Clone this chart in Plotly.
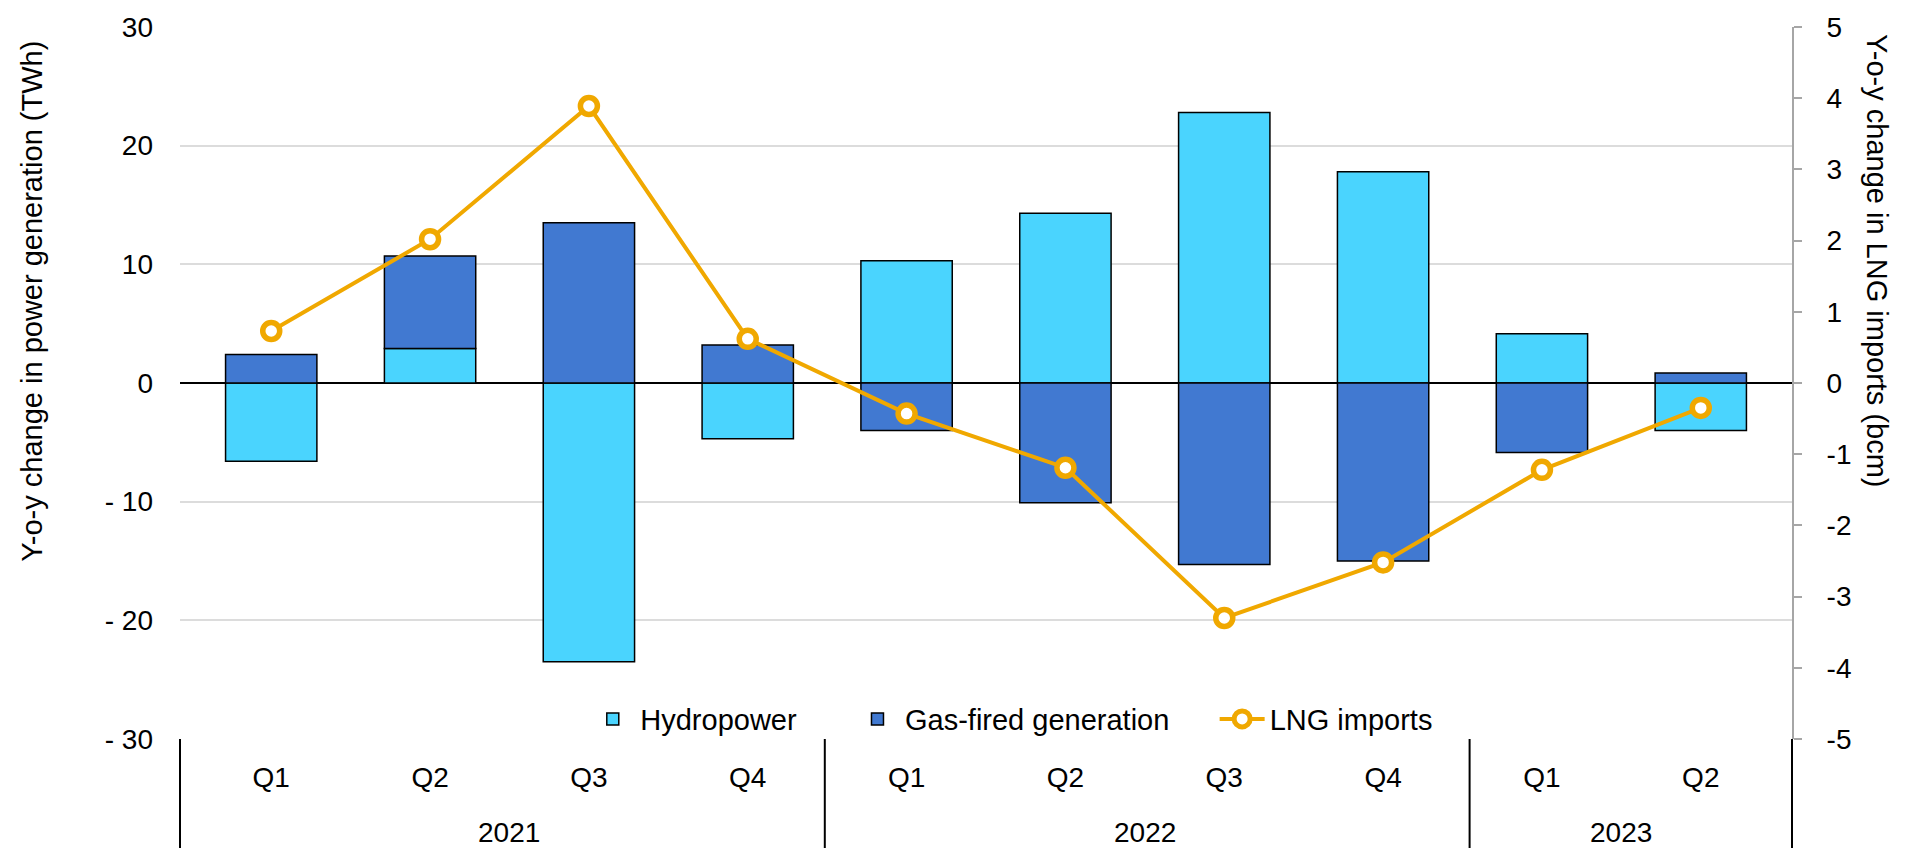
import plotly.graph_objects as go

# ---- data ----
years = ["2021", "2021", "2021", "2021", "2022", "2022", "2022", "2022", "2023", "2023"]
quarters = ["Q1", "Q2", "Q3", "Q4", "Q1", "Q2", "Q3", "Q4", "Q1", "Q2"]
hydropower = [-6.6, 2.9, -23.5, -4.7, 10.3, 14.3, 22.8, 17.8, 4.15, -4.0]
gas_fired = [2.4, 7.8, 13.5, 3.2, -4.0, -10.1, -15.3, -15.0, -5.85, 0.85]
lng_imports = [0.73, 2.02, 3.89, 0.62, -0.43, -1.19, -3.30, -2.52, -1.22, -0.35]
left_ticks = [-30, -20, -10, 0, 10, 20, 30]
left_ticktext = ["- 30", "- 20", "- 10", "0", "10", "20", "30"]
right_ticks = [-5, -4, -3, -2, -1, 0, 1, 2, 3, 4, 5]
right_ticktext = ["-5", "-4", "-3", "-2", "-1", "0", "1", "2", "3", "4", "5"]

cats = [f"{q} {y}" for q, y in zip(quarters, years)]

FONT = "Liberation Sans, Arial, sans-serif"
HYDRO = "#4AD4FE"
GAS = "#4179D1"
LNG = "#F0A800"
TICK = 28
BIG = 29
NB = "\u00a0"

fig = go.Figure()
fig.add_trace(go.Bar(x=cats, y=hydropower, name="Hydropower" + NB * 6,
                     marker=dict(color=HYDRO, line=dict(color="black", width=1.5))))
fig.add_trace(go.Bar(x=cats, y=gas_fired, name="Gas-fired generation" + NB * 5,
                     marker=dict(color=GAS, line=dict(color="black", width=1.5))))
fig.add_trace(go.Scatter(x=cats, y=lng_imports, name="LNG imports", yaxis="y2",
                         mode="lines+markers",
                         line=dict(color=LNG, width=4),
                         marker=dict(symbol="circle", size=17, color="white",
                                     line=dict(color=LNG, width=5.5))))

# year group annotations and dividers
groups = []
for i, y in enumerate(years):
    if not groups or groups[-1][0] != y:
        groups.append([y, i, i])
    else:
        groups[-1][2] = i
n = len(cats)
annotations = []
shapes = []
for y, a, b in groups:
    annotations.append(dict(x=(a + b) / 2, xref="x", y=-0.131, yref="paper",
                            text=y, showarrow=False, xanchor="center", yanchor="middle",
                            font=dict(family=FONT, size=TICK, color="black")))
bounds = [0] + [b + 1 for _, _, b in groups]
for k in bounds:
    shapes.append(dict(type="line", xref="paper", yref="paper", x0=k / n, x1=k / n,
                       y0=0, y1=-0.16, line=dict(color="black", width=2)))

annotations.append(dict(x=-0.0918, xref="paper", y=0.614, yref="paper",
                        text="Y-o-y change in power generation (TWh)", textangle=-90,
                        showarrow=False, xanchor="center", yanchor="middle",
                        font=dict(family=FONT, size=BIG, color="black")))
annotations.append(dict(x=1.053, xref="paper", y=0.672, yref="paper",
                        text="Y-o-y change in LNG imports (bcm)", textangle=90,
                        showarrow=False, xanchor="center", yanchor="middle",
                        font=dict(family=FONT, size=BIG, color="black")))

fig.update_layout(
    width=1906, height=848,
    margin=dict(l=180, r=114, t=22, b=109),
    paper_bgcolor="white", plot_bgcolor="white",
    barmode="relative", bargap=0.425,
    font=dict(family=FONT, size=TICK, color="black"),
    showlegend=True,
    legend=dict(orientation="h", x=0.516, xanchor="center", y=0.028, yanchor="middle",
                font=dict(family=FONT, size=BIG, color="black"), itemwidth=45,
                bgcolor="rgba(0,0,0,0)", traceorder="normal"),
    xaxis=dict(type="category", tickvals=cats, ticktext=quarters,
               showgrid=False, zeroline=False, showline=False, ticks="",
               ticklabelstandoff=19, tickfont=dict(family=FONT, size=TICK)),
    yaxis=dict(range=[-30, 30], tickvals=left_ticks, ticktext=left_ticktext,
               showgrid=True, gridcolor="#dcdcdc", gridwidth=1.5,
               zeroline=True, zerolinecolor="black", zerolinewidth=2,
               showline=False, ticks="", ticklabelstandoff=26,
               tickfont=dict(family=FONT, size=TICK)),
    yaxis2=dict(range=[-5, 5], tickvals=right_ticks, ticktext=right_ticktext,
                overlaying="y", side="right", showgrid=False, zeroline=False,
                showline=True, linecolor="#a6a6a6", linewidth=2,
                ticks="outside", ticklen=8, tickcolor="#a6a6a6", tickwidth=2,
                ticklabelstandoff=19, tickfont=dict(family=FONT, size=TICK)),
    annotations=annotations,
    shapes=shapes,
)

fig.write_html("out.html", config={"displayModeBar": False},
               post_script="document.body.style.margin='0';document.body.style.padding='0';document.body.style.overflow='hidden';")
